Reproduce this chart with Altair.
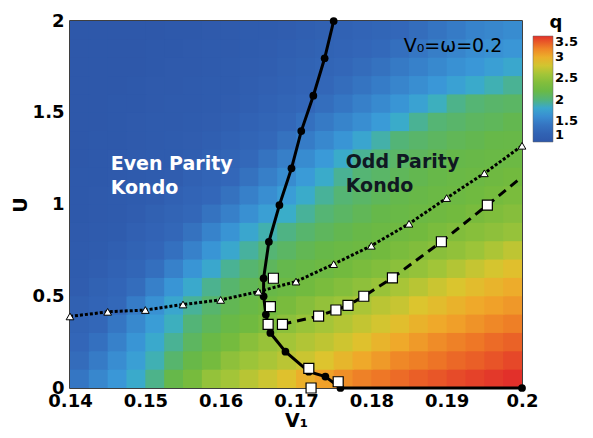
import altair as alt
import pandas as pd

# ---- q(V1, U) on a regular grid: rows from U=0 upward, columns from V1=0.14 rightward
V1_START, V1_STEP = 0.14, 0.0025
U_START, U_STEP = 0.0, 0.1
q_rows = [
    "1.42 1.55 1.68 1.82 1.97 2.15 2.33 2.51 2.60 2.69 2.78 2.88 3.00 3.08 3.16 3.22 3.26 3.30 3.34 3.37 3.41 3.44 3.47 3.50",
    "1.33 1.46 1.60 1.74 1.89 2.04 2.18 2.32 2.47 2.56 2.63 2.70 2.77 2.86 2.95 3.04 3.11 3.19 3.23 3.27 3.31 3.34 3.38 3.42",
    "1.27 1.37 1.51 1.66 1.81 1.95 2.08 2.20 2.32 2.44 2.53 2.60 2.66 2.72 2.79 2.88 2.97 3.04 3.11 3.17 3.22 3.26 3.30 3.33",
    "1.22 1.28 1.42 1.57 1.72 1.87 2.01 2.10 2.19 2.28 2.37 2.46 2.54 2.61 2.67 2.74 2.81 2.90 2.98 3.04 3.09 3.14 3.19 3.23",
    "1.16 1.23 1.30 1.47 1.63 1.79 1.94 2.04 2.12 2.19 2.27 2.34 2.42 2.50 2.56 2.63 2.70 2.76 2.85 2.91 2.98 3.04 3.08 3.12",
    "1.10 1.18 1.25 1.34 1.50 1.66 1.81 1.96 2.04 2.11 2.17 2.23 2.29 2.35 2.41 2.47 2.54 2.62 2.69 2.77 2.84 2.91 2.97 3.02",
    "1.07 1.12 1.19 1.26 1.36 1.51 1.66 1.80 1.95 2.03 2.09 2.14 2.19 2.24 2.30 2.35 2.40 2.45 2.51 2.59 2.67 2.75 2.82 2.89",
    "1.05 1.08 1.13 1.20 1.27 1.37 1.51 1.66 1.80 1.93 2.02 2.07 2.12 2.16 2.21 2.25 2.30 2.35 2.39 2.44 2.49 2.56 2.64 2.72",
    "1.03 1.05 1.08 1.15 1.21 1.28 1.38 1.52 1.65 1.79 1.90 1.98 2.04 2.09 2.13 2.18 2.22 2.26 2.30 2.35 2.39 2.43 2.47 2.52",
    "1.02 1.04 1.06 1.09 1.16 1.22 1.28 1.39 1.50 1.62 1.74 1.84 1.94 2.02 2.07 2.11 2.15 2.19 2.23 2.26 2.30 2.34 2.38 2.42",
    "1.01 1.03 1.05 1.07 1.09 1.17 1.23 1.29 1.38 1.50 1.61 1.72 1.83 1.94 2.02 2.06 2.10 2.14 2.17 2.21 2.24 2.28 2.32 2.35",
    "1.01 1.02 1.04 1.06 1.08 1.09 1.17 1.23 1.29 1.38 1.49 1.59 1.71 1.83 1.95 2.02 2.06 2.10 2.13 2.16 2.20 2.23 2.26 2.30",
    "1.00 1.01 1.03 1.05 1.07 1.08 1.12 1.18 1.24 1.30 1.39 1.49 1.59 1.70 1.83 1.95 2.02 2.06 2.09 2.12 2.15 2.17 2.20 2.23",
    "1.00 1.01 1.02 1.04 1.06 1.07 1.09 1.13 1.19 1.24 1.30 1.38 1.47 1.56 1.66 1.78 1.91 2.01 2.05 2.08 2.11 2.13 2.16 2.18",
    "1.00 1.00 1.01 1.03 1.05 1.06 1.08 1.09 1.14 1.19 1.24 1.30 1.37 1.45 1.53 1.61 1.71 1.83 1.95 2.02 2.05 2.08 2.10 2.13",
    "1.00 1.00 1.01 1.02 1.04 1.05 1.06 1.08 1.09 1.14 1.19 1.24 1.29 1.35 1.42 1.50 1.58 1.66 1.76 1.87 1.97 2.02 2.05 2.07",
    "1.00 1.00 1.00 1.01 1.03 1.04 1.05 1.07 1.08 1.11 1.15 1.19 1.23 1.28 1.34 1.40 1.47 1.54 1.61 1.68 1.75 1.82 1.89 1.95",
    "1.00 1.00 1.00 1.00 1.02 1.03 1.04 1.06 1.07 1.09 1.12 1.16 1.20 1.24 1.28 1.33 1.38 1.45 1.51 1.57 1.63 1.68 1.74 1.80",
    "1.00 1.00 1.00 1.00 1.01 1.02 1.03 1.05 1.06 1.08 1.09 1.13 1.16 1.20 1.23 1.27 1.31 1.36 1.42 1.48 1.54 1.60 1.63 1.67",
    "1.00 1.00 1.00 1.00 1.00 1.01 1.02 1.04 1.05 1.07 1.08 1.10 1.13 1.16 1.19 1.23 1.26 1.29 1.34 1.40 1.46 1.52 1.55 1.59",
]

# ---- phase boundary (solid line, filled circles)
bnd_v1 = [0.2, 0.1759, 0.1739, 0.1717, 0.1686, 0.1666, 0.1660, 0.1657, 0.1657,
          0.1664, 0.1678, 0.1694, 0.1707, 0.1723, 0.1738, 0.1750]
bnd_u = [0.0, 0.0, 0.062, 0.089, 0.198, 0.30, 0.40, 0.50, 0.598,
         0.797, 0.997, 1.197, 1.40, 1.593, 1.797, 2.0]

# ---- dotted curve with open triangles
tri_v1 = [0.14, 0.145, 0.15, 0.155, 0.16, 0.165, 0.17, 0.175, 0.18, 0.185, 0.19, 0.195, 0.2]
tri_u = [0.39, 0.415, 0.425, 0.455, 0.48, 0.525, 0.58, 0.675, 0.775, 0.895, 1.035, 1.17, 1.32]

# ---- dashed curve with open squares
dash_v1 = [0.1682, 0.173, 0.1753, 0.1769, 0.179, 0.1828, 0.1893, 0.1954, 0.2]
dash_u = [0.347, 0.392, 0.425, 0.45, 0.50, 0.60, 0.797, 0.997, 1.15]
sq_v1 = [0.1682, 0.173, 0.1753, 0.1769, 0.179, 0.1828, 0.1893, 0.1954,
         0.1670, 0.1666, 0.1663, 0.1717, 0.1720, 0.1756]
sq_u = [0.347, 0.392, 0.425, 0.45, 0.50, 0.60, 0.797, 0.997,
        0.598, 0.443, 0.347, 0.107, 0.0, 0.034]

# ---- colour map for q
q_stops = [1.0, 1.3, 1.5, 1.7, 1.85, 2.0, 2.15, 2.3, 2.6, 2.85, 3.05, 3.25, 3.5]
q_colors = ["#2e58aa", "#3368b9", "#3780c9", "#3a9ad8", "#3aaec8", "#52b47a",
            "#66b84a", "#72ba3e", "#a3c538", "#dcc52e", "#f0a82a", "#ee7a26", "#e2302a"]
q_ticks = [1, 1.5, 2, 2.5, 3, 3.5]

x_ticks = [0.14, 0.15, 0.16, 0.17, 0.18, 0.19, 0.2]
u_ticks = [0, 0.5, 1, 1.5, 2]

FONT = "DejaVu Sans"

# cells overlap their right/upper neighbour slightly so no seams show between them
OVERLAP = 0.08
cells = []
for k, row in enumerate(q_rows):
    for i, val in enumerate(row.split()):
        cells.append({
            "v1_lo": V1_START + i * V1_STEP,
            "v1_hi": V1_START + (i + 1 + OVERLAP) * V1_STEP,
            "u_lo": U_START + k * U_STEP,
            "u_hi": U_START + (k + 1 + OVERLAP) * U_STEP,
            "q": float(val),
        })
cells = pd.DataFrame(cells)

bnd = pd.DataFrame({"v1": bnd_v1, "u": bnd_u, "idx": range(len(bnd_v1))})
tri = pd.DataFrame({"v1": tri_v1, "u": tri_u})
dash = pd.DataFrame({"v1": dash_v1, "u": dash_u})
sq = pd.DataFrame({"v1": sq_v1, "u": sq_u})

xscale = alt.Scale(domain=[0.14, 0.2], nice=False, zero=False)
yscale = alt.Scale(domain=[0, 2], nice=False, zero=False)
cscale = alt.Scale(domain=q_stops, range=q_colors, interpolate="rgb")


def enc():
    return dict(x=alt.X("v1:Q", scale=xscale), y=alt.Y("u:Q", scale=yscale))


heat = alt.Chart(cells).mark_rect(clip=True).encode(
    x=alt.X("v1_lo:Q", scale=xscale, axis=alt.Axis(
        orient="bottom", values=x_ticks, format="~g", labelFlush=False),
        title="V\u2081"),
    x2="v1_hi:Q",
    y=alt.Y("u_lo:Q", scale=yscale, axis=alt.Axis(
        orient="left", values=u_ticks, format="~g"), title="U"),
    y2="u_hi:Q",
    color=alt.Color("q:Q", scale=cscale, legend=alt.Legend(
        type="gradient", title="q", orient="none", legendX=463, legendY=-7,
        values=q_ticks, labelExpr="format(datum.value, '.1~f')",
        gradientLength=106, gradientThickness=20,
        direction="vertical", titleAnchor="middle", titlePadding=4,
        gradientStrokeColor="#666", gradientStrokeWidth=0.5)),
)

bnd_line = alt.Chart(bnd).mark_line(color="black", strokeWidth=3).encode(
    order="idx:Q", **enc())
tri_line = alt.Chart(tri).mark_line(color="black", strokeWidth=3,
                                    strokeDash=[3, 2]).encode(**enc())
dash_line = alt.Chart(dash).mark_line(color="black", strokeWidth=3,
                                      strokeDash=[9, 6]).encode(**enc())
bnd_pts = alt.Chart(bnd).mark_point(shape="circle", filled=True, color="black",
                                    size=60, opacity=1).encode(**enc())
tri_pts = alt.Chart(tri).mark_point(shape="triangle-up", filled=True, fill="white",
                                    stroke="black", strokeWidth=1, size=60,
                                    opacity=1).encode(**enc())
sq_pts = alt.Chart(sq).mark_point(shape="square", filled=True, fill="white",
                                  stroke="black", strokeWidth=1.2, size=100,
                                  opacity=1).encode(**enc())

labels = pd.DataFrame({
    "v1": [0.1454, 0.1766], "u": [1.27, 1.28],
    "txt": ["Even Parity\nKondo", "Odd Parity\nKondo"],
    "col": ["white", "#101822"],
})
phase_text = alt.Chart(labels).mark_text(
    font=FONT, fontSize=19, fontWeight="bold", align="left", baseline="top",
    lineBreak="\n", lineHeight=24).encode(
    text="txt:N", color=alt.Color("col:N", scale=None), **enc())

param = pd.DataFrame({"v1": [0.1843], "u": [1.864], "txt": ["V\u2080=\u03c9=0.2"]})
param_text = alt.Chart(param).mark_text(
    font=FONT, fontSize=19, align="left", baseline="middle", color="black").encode(
    text="txt:N", **enc())

chart = alt.layer(heat, bnd_line, tri_line, dash_line, bnd_pts, tri_pts, sq_pts,
                  phase_text, param_text).properties(
    width=452, height=367,
    autosize=alt.AutoSizeParams(type="none"),
    padding={"left": 70, "top": 21, "right": 71, "bottom": 50},
).configure_view(stroke="black", strokeWidth=1.5).configure_axis(
    labelFont=FONT, labelFontWeight="bold", labelFontSize=18, labelColor="black",
    titleFont=FONT, titleFontWeight="bold", titleFontSize=19, titleColor="black",
    labelPadding=4, ticks=False, domain=False, grid=False,
).configure_axisX(titlePadding=1).configure_axisY(titlePadding=2, labelPadding=6).configure_legend(
    labelFont=FONT, labelFontWeight="bold", labelFontSize=13, labelColor="black",
    titleFont=FONT, titleFontWeight="bold", titleFontSize=18, titleColor="black",
    labelOffset=3,
)

chart.save("out.html", embed_options={"renderer": "svg", "actions": False})
